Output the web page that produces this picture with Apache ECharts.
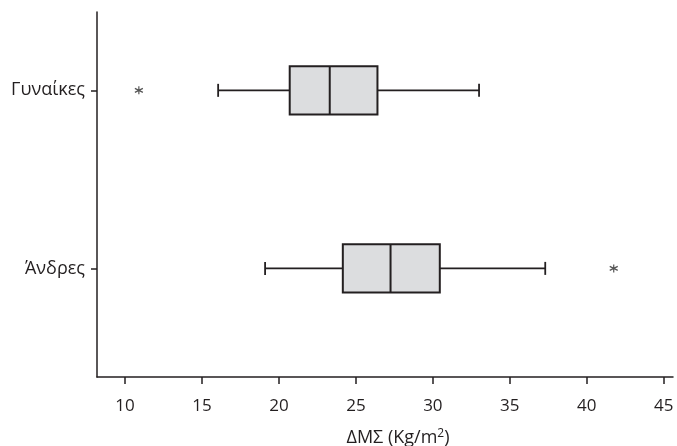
<!DOCTYPE html>
<html>
<head>
<meta charset="utf-8">
<script src="https://cdn.jsdelivr.net/npm/echarts@6/dist/echarts.min.js"></script>
<style>
html,body{margin:0;padding:0;background:#fff;}
#chart{width:677px;height:446px;}
</style>
</head>
<body>
<div id="chart"></div>
<script>
// Categories (position on the vertical value axis) and labels
const groupNames = ['Άνδρες', 'Γυναίκες'];
const groupPos = [1, 2];
// Box statistics: [min whisker, Q1, median, Q3, max whisker]
const statsWomen = [16.05, 20.7, 23.3, 26.4, 33.0];
const statsMen = [19.1, 24.15, 27.25, 30.45, 37.3];
// Outliers: [value, group position]
const outliers = [[10.9, 2], [41.75, 1]];
// X tick labels
const xTicks = [10, 15, 20, 25, 30, 35, 40, 45];

const boxData = [
  [groupPos[1]].concat(statsWomen),
  [groupPos[0]].concat(statsMen)
];

const ink = '#231f20';
const fontFam = '"Open Sans", "Noto Sans", sans-serif';

const chart = echarts.init(document.getElementById('chart'), null, {renderer: 'canvas'});
chart.setOption({
  animation: false,
  backgroundColor: '#fff',
  grid: {left: 97, right: 4, top: 12, bottom: 69, containLabel: false, outerBoundsMode: 'none'},
  xAxis: {
    type: 'value',
    min: 8.18,
    max: 45.6,
    splitLine: {show: false},
    axisLine: {show: true, lineStyle: {color: ink, width: 1.5}},
    axisTick: {show: true, customValues: xTicks, length: 7, lineStyle: {color: ink, width: 1.5}},
    axisLabel: {
      customValues: xTicks, margin: 21, color: ink, fontSize: 17, fontFamily: fontFam
    },
    name: '{a|ΔΜΣ (Kg/m}{s|2}{a|)}',
    nameLocation: 'middle',
    nameGap: 51,
    nameTextStyle: {
      padding: [0, 0, 0, 26],
      rich: {
        a: {fontSize: 18, color: ink, fontFamily: fontFam},
        s: {fontSize: 12, color: ink, fontFamily: fontFam, verticalAlign: 'top', padding: [0, 0, 7, 0]}
      }
    }
  },
  yAxis: {
    type: 'value',
    min: 0.39,
    max: 2.44,
    splitLine: {show: false},
    axisLine: {show: true, lineStyle: {color: ink, width: 1.5}},
    axisTick: {show: true, customValues: groupPos, length: 6, lineStyle: {color: ink, width: 1.5}},
    axisLabel: {
      customValues: groupPos, margin: 12, color: ink, fontSize: 18, fontFamily: fontFam,
      formatter: function (v) { return groupNames[groupPos.indexOf(Math.round(v))] || ''; }
    }
  },
  series: [
    {
      type: 'custom',
      data: boxData,
      encode: {x: [1, 2, 3, 4, 5], y: 0},
      renderItem: function (params, api) {
        const yv = api.value(0);
        const p = [1, 2, 3, 4, 5].map(function (i) { return api.coord([api.value(i), yv]); });
        const cy = p[0][1];
        const hh = api.size([0, 0.27])[1] / 2;
        const cap = 6.5;
        const ls = {stroke: ink, lineWidth: 1.8};
        return {
          type: 'group',
          children: [
            {type: 'line', shape: {x1: p[0][0], y1: cy, x2: p[1][0], y2: cy}, style: ls},
            {type: 'line', shape: {x1: p[3][0], y1: cy, x2: p[4][0], y2: cy}, style: ls},
            {type: 'line', shape: {x1: p[0][0], y1: cy - cap, x2: p[0][0], y2: cy + cap}, style: ls},
            {type: 'line', shape: {x1: p[4][0], y1: cy - cap, x2: p[4][0], y2: cy + cap}, style: ls},
            {type: 'rect', shape: {x: p[1][0], y: cy - hh, width: p[3][0] - p[1][0], height: hh * 2},
              style: {fill: '#dcdddf', stroke: ink, lineWidth: 2}},
            {type: 'line', shape: {x1: p[2][0], y1: cy - hh, x2: p[2][0], y2: cy + hh}, style: {stroke: ink, lineWidth: 2}}
          ]
        };
      }
    },
    {
      type: 'scatter',
      data: outliers,
      symbol: 'path://M5 0 L5 10 M0.67 2.5 L9.33 7.5 M0.67 7.5 L9.33 2.5',
      symbolSize: 8,
      itemStyle: {color: 'rgba(0,0,0,0)', borderColor: '#555', borderWidth: 1.2, opacity: 1}
    }
  ]
});
</script>
</body>
</html>
